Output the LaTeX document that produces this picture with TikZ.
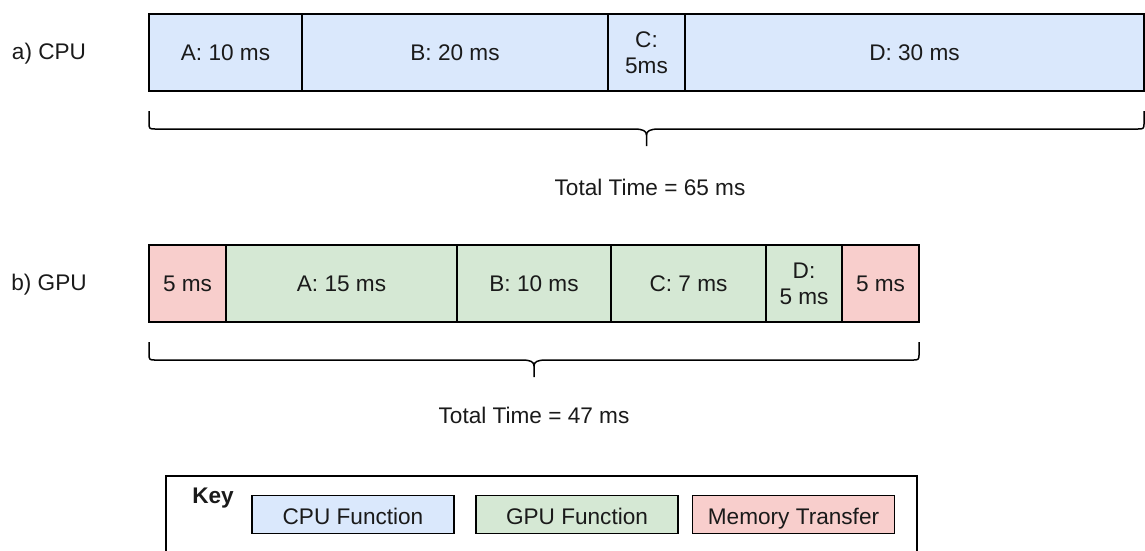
\documentclass[tikz,border=0pt]{standalone}
\usepackage{fontspec}
\setmainfont{Liberation Sans}
\definecolor{cpuc}{HTML}{DAE8FC}
\definecolor{gpuc}{HTML}{D5E8D4}
\definecolor{memc}{HTML}{F8CECC}
\definecolor{txt}{HTML}{1A1A1A}
\newcommand{\dfont}{\fontsize{22.6}{26}\selectfont}
\begin{document}
\begin{tikzpicture}[x=1pt,y=-1pt,
  seg/.style={draw=black, line width=1.3pt, minimum height=77pt, inner sep=0pt, align=center, font=\dfont, text=txt},
  keyitem/.style={draw=black, line width=1.3pt, minimum height=38.5pt, minimum width=202pt, inner sep=0pt, font=\dfont, text=txt, text height=21pt, text depth=1pt},
  lbl/.style={font=\dfont, text=txt, inner sep=0pt, text height=16.5pt, text depth=4.5pt},
  brace/.style={draw=black, line width=1.5pt, line join=round}]
\useasboundingbox (0,0) rectangle (1145,550);
% row labels
\node[lbl] (la) at (49,53) {a) CPU};
\node[lbl] (lb) at (49,284) {b) GPU};
% CPU row
\node[seg, fill=cpuc, minimum width=153pt] (ca) at (225.5,52.5) {A: 10 ms};
\node[seg, fill=cpuc, minimum width=306pt] (cb) at (455,52.5) {B: 20 ms};
\node[seg, fill=cpuc, minimum width=77pt] (cc) at (646.5,52.5) {C:\\5ms};
\node[seg, fill=cpuc, minimum width=459pt] (cd) at (914.5,52.5) {D: 30 ms};
% CPU brace
\draw[brace] (149,111) -- (149,122) .. controls (149,129) .. (156,129) -- (634,129)
  .. controls (643,129) and (646.5,131) .. (646.5,135) -- (646.5,146);
\draw[brace] (646.5,135) .. controls (646.5,131) and (650,129) .. (659,129) -- (1137,129)
  .. controls (1144,129) .. (1144,122) -- (1144,111);
\node[lbl] (tc) at (650,189) {Total Time = 65 ms};
% GPU row
\node[seg, fill=memc, minimum width=77pt] (gm1) at (187.5,283.5) {5 ms};
\node[seg, fill=gpuc, minimum width=231pt] (ga) at (341.5,283.5) {A: 15 ms};
\node[seg, fill=gpuc, minimum width=154pt] (gb) at (534,283.5) {B: 10 ms};
\node[seg, fill=gpuc, minimum width=155pt] (gc) at (688.5,283.5) {C: 7 ms};
\node[seg, fill=gpuc, minimum width=76pt] (gd) at (804,283.5) {D:\\5 ms};
\node[seg, fill=memc, minimum width=77pt] (gm2) at (880.5,283.5) {5 ms};
% GPU brace
\draw[brace] (149,342) -- (149,353) .. controls (149,360) .. (156,360) -- (522,360)
  .. controls (531,360) and (534,362) .. (534,366) -- (534,377);
\draw[brace] (534,366) .. controls (534,362) and (537,360) .. (546,360) -- (912,360)
  .. controls (919,360) .. (919,353) -- (919,342);
\node[lbl] (tg) at (534,417) {Total Time = 47 ms};
% Key
\draw[line width=1.3pt] (166,580) -- (166,476) -- (917,476) -- (917,580);
\node[lbl, font=\dfont\bfseries] (key) at (213,497) {Key};
\node[keyitem, fill=cpuc] (kc) at (353,514.5) {CPU Function};
\node[keyitem, fill=gpuc] (kg) at (577,514.5) {GPU Function};
\node[keyitem, fill=memc] (km) at (793.5,514.5) {Memory Transfer};
\end{tikzpicture}
\end{document}
